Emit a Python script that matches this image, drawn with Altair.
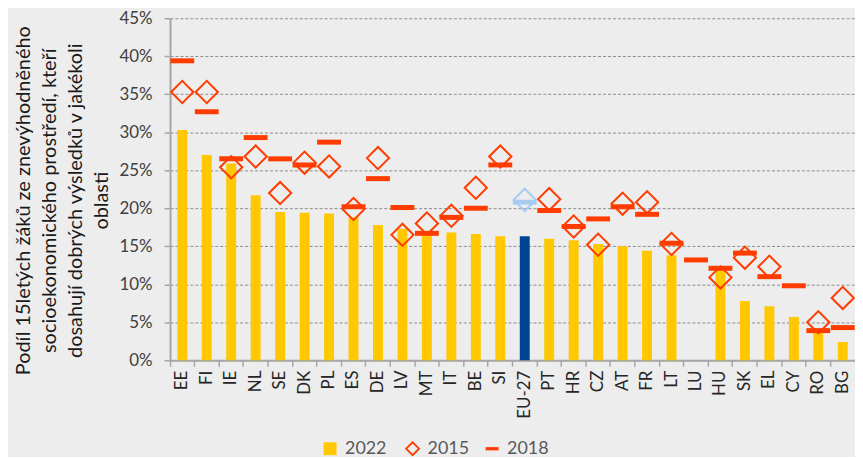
import altair as alt
import pandas as pd

countries = ["EE", "FI", "IE", "NL", "SE", "DK", "PL", "ES", "DE", "LV", "MT", "IT", "BE", "SI",
             "EU-27", "PT", "HR", "CZ", "AT", "FR", "LT", "LU", "HU", "SK", "EL", "CY", "RO", "BG"]
v2022 = [30.3, 27.0, 25.9, 21.7, 19.5, 19.4, 19.3, 18.8, 17.8, 17.3, 16.9, 16.8, 16.6, 16.3,
         16.3, 16.0, 15.8, 15.3, 15.0, 14.4, 13.8, None, 11.8, 7.8, 7.1, 5.7, 3.7, 2.4]
v2015 = [35.3, 35.3, 25.4, 26.8, 22.0, 26.0, 25.5, 19.9, 26.6, 16.5, 18.0, 19.0, 22.7, 26.8,
         21.1, 21.2, 17.6, 15.2, 20.6, 20.8, 15.3, None, 10.9, 13.5, 12.3, None, 5.0, 8.2]
v2018 = [39.4, 32.7, 26.5, 29.3, 26.5, 25.7, 28.7, 20.2, 23.9, 20.1, 16.7, 18.8, 20.0, 25.7,
         20.8, 19.7, 17.6, 18.6, 20.2, 19.2, 15.4, 13.2, 12.1, 14.1, 11.0, 9.8, 3.9, 4.3]
y_ticks = [0, 0.05, 0.1, 0.15, 0.2, 0.25, 0.3, 0.35, 0.4, 0.45]
y_title = ["Podíl 15letých žáků ze znevýhodněného",
           "socioekonomického prostředí, kteří",
           "dosahují dobrých výsledků  v jakékoli",
           "oblasti"]


def pct(v):
    return None if v is None else v / 100.0


df = pd.DataFrame({
    "country": countries,
    "v2022": [pct(v) for v in v2022],
    "v2015": [pct(v) for v in v2015],
    "v2018": [pct(v) for v in v2018],
    "s2022": "2022",
    "s2015": "2015",
    "s2018": "2018",
})

FONT = "Lato"
YEL = "#FFC800"
RED = "#FF3C00"
EUB = "#004494"
LBLUE = "#A8CBF3"
GRAY = "#A6A6A6"

is_eu = alt.datum.country == "EU-27"

x_enc = alt.X(
    "country:N", sort=countries, title=None,
    scale=alt.Scale(type="band", paddingInner=0, paddingOuter=0),
    axis=alt.Axis(labelAngle=-90, labelFont=FONT, labelFontSize=17, labelColor="#262626",
                  labelPadding=4, tickSize=6, tickColor=GRAY, tickWidth=1.5, bandPosition=0,
                  domainColor=GRAY, domainWidth=2, grid=False),
)

y_scale = alt.Scale(domain=[0, 0.45], nice=False, zero=True)
y_axis = alt.Axis(title=y_title, format=".0%", values=y_ticks, labelOverlap=False,
                  labelFont=FONT, labelFontSize=17, labelColor="#404040", labelPadding=12,
                  tickSize=6, tickColor=GRAY, tickWidth=1.5,
                  domainColor=GRAY, domainWidth=2,
                  grid=True, gridColor="#8C8C8C", gridDash=[3, 2], gridWidth=1,
                  titleFont=FONT, titleFontSize=20, titleFontWeight="normal",
                  titleColor="#1a1a1a", titleLineHeight=26, titlePadding=8, titleY=183)


def yenc(field):
    return alt.Y(field, type="quantitative", scale=y_scale, axis=y_axis)


def legend(x):
    return dict(orient="none", legendX=x, legendY=424, labelFont=FONT, labelFontSize=18,
                labelColor="#595959", symbolSize=169, labelOffset=6, symbolStrokeWidth=1.8,
                symbolOpacity=1)


bars = alt.Chart(df).mark_bar(size=10).encode(
    x=x_enc,
    y=yenc("v2022"),
    color=alt.condition(
        is_eu, alt.value(EUB),
        alt.Color("s2022:N", title=None,
                  scale=alt.Scale(domain=["2022"], range=[YEL]),
                  legend=alt.Legend(symbolType="square", **legend(152))),
    ),
)

diamonds = alt.Chart(df).mark_point(shape="diamond", filled=False, size=500, strokeWidth=2,
                                    opacity=1).encode(
    x=x_enc,
    y=yenc("v2015"),
    color=alt.condition(
        is_eu, alt.value(LBLUE),
        alt.Color("s2015:N", title=None,
                  scale=alt.Scale(domain=["2015"], range=[RED]),
                  legend=alt.Legend(symbolType="diamond", symbolFillColor="transparent",
                                    **legend(235))),
    ),
)

dashes = alt.Chart(df).mark_tick(size=24, thickness=5, opacity=1).encode(
    x=x_enc,
    y=yenc("v2018"),
    color=alt.condition(
        is_eu, alt.value(LBLUE),
        alt.Color("s2018:N", title=None,
                  scale=alt.Scale(domain=["2018"], range=[RED]),
                  legend=alt.Legend(symbolType="M-1,-0.25L1,-0.25L1,0.25L-1,0.25Z",
                                    **legend(315))),
    ),
)

chart = alt.layer(bars, diamonds, dashes).resolve_scale(
    color="independent"
).resolve_legend(color="independent").properties(
    width=689, height=344,
    autosize=alt.AutoSizeParams(type="none"),
    padding={"left": 163, "top": 9, "right": 0, "bottom": 96},
    background="#EDEDED",
).configure_view(stroke="transparent")

chart.save("out.html", embed_options={"renderer": "svg", "actions": False})
